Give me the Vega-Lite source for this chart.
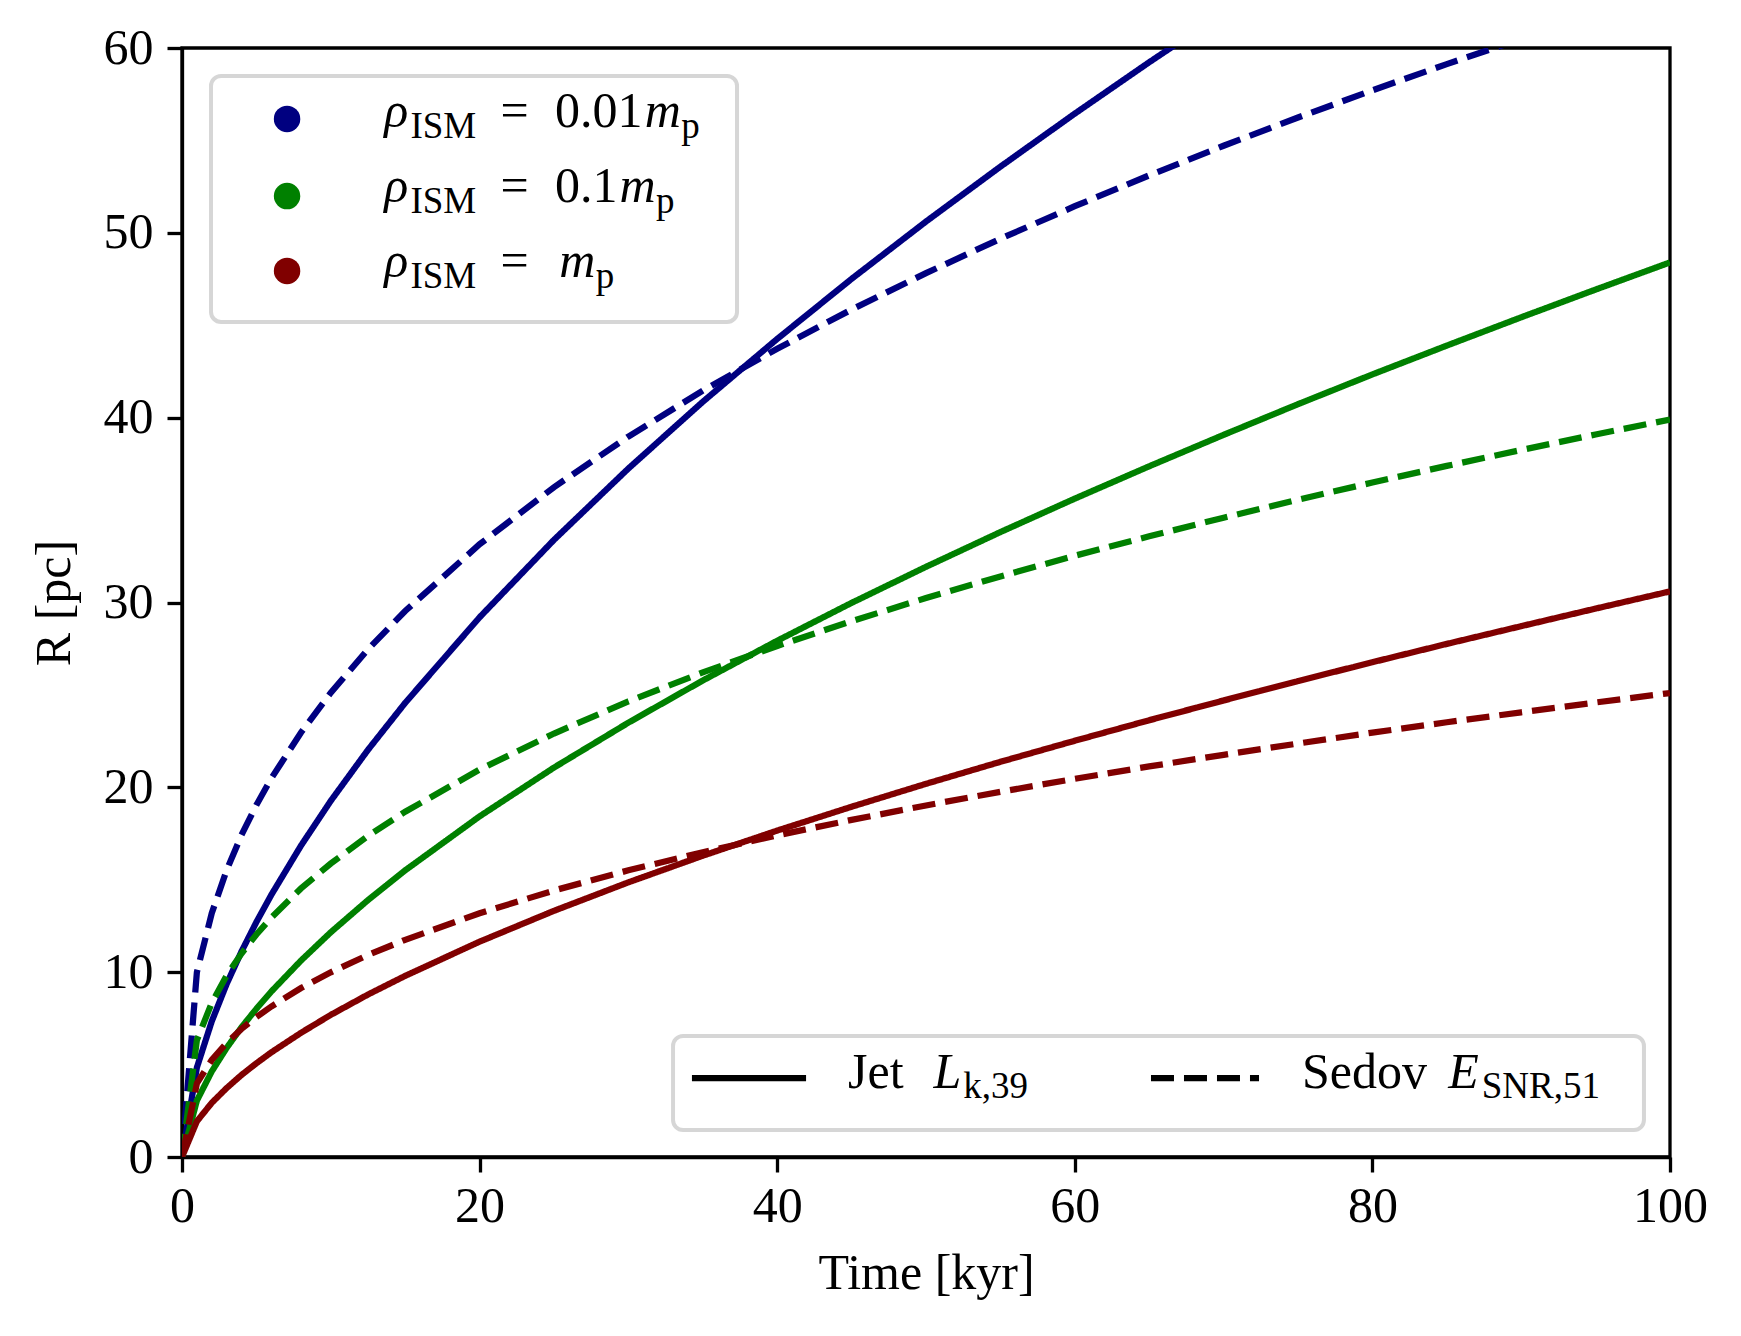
{
  "$schema": "https://vega.github.io/schema/vega-lite/v6.json",
  "width": 1488,
  "height": 1109,
  "autosize": {"type": "none"},
  "padding": {"left": 182, "top": 48, "right": 71, "bottom": 179},
  "background": "white",
  "config": {
    "view": {"stroke": "black", "strokeWidth": 3.3},
    "font": "Liberation Serif",
    "axis": {
      "labelFont": "Liberation Serif",
      "labelFontSize": 50,
      "labelColor": "black",
      "labelFlush": false,
      "labelOverlap": false,
      "titleFont": "Liberation Serif",
      "titleFontSize": 50,
      "titleFontWeight": "normal",
      "titleColor": "black",
      "tickColor": "black",
      "domainColor": "black",
      "tickWidth": 3.3,
      "domainWidth": 3.3,
      "tickSize": 15,
      "grid": false
    }
  },
  "datasets": {
    "one": [{}],
    "curves": [
      {"t": 0, "R": 0, "rho": "0.01", "model": "Jet"},
      {"t": 1, "R": 4.84, "rho": "0.01", "model": "Jet"},
      {"t": 2, "R": 7.34, "rho": "0.01", "model": "Jet"},
      {"t": 3, "R": 9.36, "rho": "0.01", "model": "Jet"},
      {"t": 4, "R": 11.12, "rho": "0.01", "model": "Jet"},
      {"t": 5, "R": 12.71, "rho": "0.01", "model": "Jet"},
      {"t": 6, "R": 14.18, "rho": "0.01", "model": "Jet"},
      {"t": 8, "R": 16.85, "rho": "0.01", "model": "Jet"},
      {"t": 10, "R": 19.27, "rho": "0.01", "model": "Jet"},
      {"t": 12.5, "R": 22.03, "rho": "0.01", "model": "Jet"},
      {"t": 15, "R": 24.57, "rho": "0.01", "model": "Jet"},
      {"t": 20, "R": 29.20, "rho": "0.01", "model": "Jet"},
      {"t": 25, "R": 33.39, "rho": "0.01", "model": "Jet"},
      {"t": 30, "R": 37.25, "rho": "0.01", "model": "Jet"},
      {"t": 35, "R": 40.86, "rho": "0.01", "model": "Jet"},
      {"t": 40, "R": 44.26, "rho": "0.01", "model": "Jet"},
      {"t": 45, "R": 47.51, "rho": "0.01", "model": "Jet"},
      {"t": 50, "R": 50.61, "rho": "0.01", "model": "Jet"},
      {"t": 55, "R": 53.58, "rho": "0.01", "model": "Jet"},
      {"t": 60, "R": 56.45, "rho": "0.01", "model": "Jet"},
      {"t": 65, "R": 59.23, "rho": "0.01", "model": "Jet"},
      {"t": 70, "R": 61.92, "rho": "0.01", "model": "Jet"},

      {"t": 0, "R": 0, "rho": "0.1", "model": "Jet"},
      {"t": 1, "R": 3.05, "rho": "0.1", "model": "Jet"},
      {"t": 2, "R": 4.63, "rho": "0.1", "model": "Jet"},
      {"t": 3, "R": 5.90, "rho": "0.1", "model": "Jet"},
      {"t": 4, "R": 7.02, "rho": "0.1", "model": "Jet"},
      {"t": 5, "R": 8.02, "rho": "0.1", "model": "Jet"},
      {"t": 6, "R": 8.95, "rho": "0.1", "model": "Jet"},
      {"t": 8, "R": 10.63, "rho": "0.1", "model": "Jet"},
      {"t": 10, "R": 12.16, "rho": "0.1", "model": "Jet"},
      {"t": 12.5, "R": 13.90, "rho": "0.1", "model": "Jet"},
      {"t": 15, "R": 15.51, "rho": "0.1", "model": "Jet"},
      {"t": 20, "R": 18.43, "rho": "0.1", "model": "Jet"},
      {"t": 25, "R": 21.07, "rho": "0.1", "model": "Jet"},
      {"t": 30, "R": 23.50, "rho": "0.1", "model": "Jet"},
      {"t": 35, "R": 25.78, "rho": "0.1", "model": "Jet"},
      {"t": 40, "R": 27.93, "rho": "0.1", "model": "Jet"},
      {"t": 45, "R": 29.98, "rho": "0.1", "model": "Jet"},
      {"t": 50, "R": 31.93, "rho": "0.1", "model": "Jet"},
      {"t": 55, "R": 33.81, "rho": "0.1", "model": "Jet"},
      {"t": 60, "R": 35.62, "rho": "0.1", "model": "Jet"},
      {"t": 65, "R": 37.37, "rho": "0.1", "model": "Jet"},
      {"t": 70, "R": 39.07, "rho": "0.1", "model": "Jet"},
      {"t": 75, "R": 40.73, "rho": "0.1", "model": "Jet"},
      {"t": 80, "R": 42.34, "rho": "0.1", "model": "Jet"},
      {"t": 85, "R": 43.90, "rho": "0.1", "model": "Jet"},
      {"t": 90, "R": 45.43, "rho": "0.1", "model": "Jet"},
      {"t": 95, "R": 46.93, "rho": "0.1", "model": "Jet"},
      {"t": 100, "R": 48.40, "rho": "0.1", "model": "Jet"},

      {"t": 0, "R": 0, "rho": "1", "model": "Jet"},
      {"t": 1, "R": 1.93, "rho": "1", "model": "Jet"},
      {"t": 2, "R": 2.93, "rho": "1", "model": "Jet"},
      {"t": 3, "R": 3.73, "rho": "1", "model": "Jet"},
      {"t": 4, "R": 4.44, "rho": "1", "model": "Jet"},
      {"t": 5, "R": 5.07, "rho": "1", "model": "Jet"},
      {"t": 6, "R": 5.66, "rho": "1", "model": "Jet"},
      {"t": 8, "R": 6.72, "rho": "1", "model": "Jet"},
      {"t": 10, "R": 7.69, "rho": "1", "model": "Jet"},
      {"t": 12.5, "R": 8.79, "rho": "1", "model": "Jet"},
      {"t": 15, "R": 9.80, "rho": "1", "model": "Jet"},
      {"t": 20, "R": 11.65, "rho": "1", "model": "Jet"},
      {"t": 25, "R": 13.32, "rho": "1", "model": "Jet"},
      {"t": 30, "R": 14.86, "rho": "1", "model": "Jet"},
      {"t": 35, "R": 16.30, "rho": "1", "model": "Jet"},
      {"t": 40, "R": 17.66, "rho": "1", "model": "Jet"},
      {"t": 45, "R": 18.95, "rho": "1", "model": "Jet"},
      {"t": 50, "R": 20.19, "rho": "1", "model": "Jet"},
      {"t": 55, "R": 21.38, "rho": "1", "model": "Jet"},
      {"t": 60, "R": 22.52, "rho": "1", "model": "Jet"},
      {"t": 65, "R": 23.63, "rho": "1", "model": "Jet"},
      {"t": 70, "R": 24.70, "rho": "1", "model": "Jet"},
      {"t": 75, "R": 25.75, "rho": "1", "model": "Jet"},
      {"t": 80, "R": 26.77, "rho": "1", "model": "Jet"},
      {"t": 85, "R": 27.76, "rho": "1", "model": "Jet"},
      {"t": 90, "R": 28.72, "rho": "1", "model": "Jet"},
      {"t": 95, "R": 29.67, "rho": "1", "model": "Jet"},
      {"t": 100, "R": 30.60, "rho": "1", "model": "Jet"},

      {"t": 0, "R": 0, "rho": "0.01", "model": "Sedov"},
      {"t": 1, "R": 10.00, "rho": "0.01", "model": "Sedov"},
      {"t": 2, "R": 13.19, "rho": "0.01", "model": "Sedov"},
      {"t": 3, "R": 15.52, "rho": "0.01", "model": "Sedov"},
      {"t": 4, "R": 17.42, "rho": "0.01", "model": "Sedov"},
      {"t": 5, "R": 19.04, "rho": "0.01", "model": "Sedov"},
      {"t": 6, "R": 20.48, "rho": "0.01", "model": "Sedov"},
      {"t": 8, "R": 22.97, "rho": "0.01", "model": "Sedov"},
      {"t": 10, "R": 25.12, "rho": "0.01", "model": "Sedov"},
      {"t": 12.5, "R": 27.47, "rho": "0.01", "model": "Sedov"},
      {"t": 15, "R": 29.54, "rho": "0.01", "model": "Sedov"},
      {"t": 20, "R": 33.15, "rho": "0.01", "model": "Sedov"},
      {"t": 25, "R": 36.24, "rho": "0.01", "model": "Sedov"},
      {"t": 30, "R": 38.98, "rho": "0.01", "model": "Sedov"},
      {"t": 35, "R": 41.46, "rho": "0.01", "model": "Sedov"},
      {"t": 40, "R": 43.73, "rho": "0.01", "model": "Sedov"},
      {"t": 45, "R": 45.85, "rho": "0.01", "model": "Sedov"},
      {"t": 50, "R": 47.82, "rho": "0.01", "model": "Sedov"},
      {"t": 55, "R": 49.68, "rho": "0.01", "model": "Sedov"},
      {"t": 60, "R": 51.44, "rho": "0.01", "model": "Sedov"},
      {"t": 65, "R": 53.11, "rho": "0.01", "model": "Sedov"},
      {"t": 70, "R": 54.71, "rho": "0.01", "model": "Sedov"},
      {"t": 75, "R": 56.24, "rho": "0.01", "model": "Sedov"},
      {"t": 80, "R": 57.71, "rho": "0.01", "model": "Sedov"},
      {"t": 85, "R": 59.13, "rho": "0.01", "model": "Sedov"},
      {"t": 90, "R": 60.49, "rho": "0.01", "model": "Sedov"},

      {"t": 0, "R": 0, "rho": "0.1", "model": "Sedov"},
      {"t": 1, "R": 6.32, "rho": "0.1", "model": "Sedov"},
      {"t": 2, "R": 8.34, "rho": "0.1", "model": "Sedov"},
      {"t": 3, "R": 9.82, "rho": "0.1", "model": "Sedov"},
      {"t": 4, "R": 11.01, "rho": "0.1", "model": "Sedov"},
      {"t": 5, "R": 12.04, "rho": "0.1", "model": "Sedov"},
      {"t": 6, "R": 12.95, "rho": "0.1", "model": "Sedov"},
      {"t": 8, "R": 14.53, "rho": "0.1", "model": "Sedov"},
      {"t": 10, "R": 15.88, "rho": "0.1", "model": "Sedov"},
      {"t": 12.5, "R": 17.37, "rho": "0.1", "model": "Sedov"},
      {"t": 15, "R": 18.68, "rho": "0.1", "model": "Sedov"},
      {"t": 20, "R": 20.96, "rho": "0.1", "model": "Sedov"},
      {"t": 25, "R": 22.91, "rho": "0.1", "model": "Sedov"},
      {"t": 30, "R": 24.65, "rho": "0.1", "model": "Sedov"},
      {"t": 35, "R": 26.22, "rho": "0.1", "model": "Sedov"},
      {"t": 40, "R": 27.65, "rho": "0.1", "model": "Sedov"},
      {"t": 45, "R": 28.99, "rho": "0.1", "model": "Sedov"},
      {"t": 50, "R": 30.24, "rho": "0.1", "model": "Sedov"},
      {"t": 55, "R": 31.41, "rho": "0.1", "model": "Sedov"},
      {"t": 60, "R": 32.53, "rho": "0.1", "model": "Sedov"},
      {"t": 65, "R": 33.58, "rho": "0.1", "model": "Sedov"},
      {"t": 70, "R": 34.59, "rho": "0.1", "model": "Sedov"},
      {"t": 75, "R": 35.56, "rho": "0.1", "model": "Sedov"},
      {"t": 80, "R": 36.49, "rho": "0.1", "model": "Sedov"},
      {"t": 85, "R": 37.39, "rho": "0.1", "model": "Sedov"},
      {"t": 90, "R": 38.25, "rho": "0.1", "model": "Sedov"},
      {"t": 95, "R": 39.09, "rho": "0.1", "model": "Sedov"},
      {"t": 100, "R": 39.90, "rho": "0.1", "model": "Sedov"},

      {"t": 0, "R": 0, "rho": "1", "model": "Sedov"},
      {"t": 1, "R": 3.98, "rho": "1", "model": "Sedov"},
      {"t": 2, "R": 5.25, "rho": "1", "model": "Sedov"},
      {"t": 3, "R": 6.17, "rho": "1", "model": "Sedov"},
      {"t": 4, "R": 6.93, "rho": "1", "model": "Sedov"},
      {"t": 5, "R": 7.57, "rho": "1", "model": "Sedov"},
      {"t": 6, "R": 8.14, "rho": "1", "model": "Sedov"},
      {"t": 8, "R": 9.14, "rho": "1", "model": "Sedov"},
      {"t": 10, "R": 9.99, "rho": "1", "model": "Sedov"},
      {"t": 12.5, "R": 10.93, "rho": "1", "model": "Sedov"},
      {"t": 15, "R": 11.75, "rho": "1", "model": "Sedov"},
      {"t": 20, "R": 13.19, "rho": "1", "model": "Sedov"},
      {"t": 25, "R": 14.42, "rho": "1", "model": "Sedov"},
      {"t": 30, "R": 15.51, "rho": "1", "model": "Sedov"},
      {"t": 35, "R": 16.49, "rho": "1", "model": "Sedov"},
      {"t": 40, "R": 17.40, "rho": "1", "model": "Sedov"},
      {"t": 45, "R": 18.24, "rho": "1", "model": "Sedov"},
      {"t": 50, "R": 19.02, "rho": "1", "model": "Sedov"},
      {"t": 55, "R": 19.76, "rho": "1", "model": "Sedov"},
      {"t": 60, "R": 20.46, "rho": "1", "model": "Sedov"},
      {"t": 65, "R": 21.13, "rho": "1", "model": "Sedov"},
      {"t": 70, "R": 21.76, "rho": "1", "model": "Sedov"},
      {"t": 75, "R": 22.37, "rho": "1", "model": "Sedov"},
      {"t": 80, "R": 22.96, "rho": "1", "model": "Sedov"},
      {"t": 85, "R": 23.52, "rho": "1", "model": "Sedov"},
      {"t": 90, "R": 24.06, "rho": "1", "model": "Sedov"},
      {"t": 95, "R": 24.59, "rho": "1", "model": "Sedov"},
      {"t": 100, "R": 25.10, "rho": "1", "model": "Sedov"}
    ]
  },
  "layer": [
    {
      "data": {"name": "curves"},
      "mark": {"type": "line", "strokeWidth": 6.25, "clip": true},
      "encoding": {
        "x": {
          "field": "t",
          "type": "quantitative",
          "title": "Time [kyr]",
          "scale": {"domain": [0, 100], "nice": false},
          "axis": {"values": [0, 20, 40, 60, 80, 100], "format": "d", "labelPadding": 9, "titlePadding": 17}
        },
        "y": {
          "field": "R",
          "type": "quantitative",
          "title": "R [pc]",
          "scale": {"domain": [0, 60], "nice": false},
          "axis": {"values": [0, 10, 20, 30, 40, 50, 60], "format": "d", "labelPadding": 14, "titlePadding": 24}
        },
        "color": {
          "field": "rho",
          "type": "nominal",
          "scale": {"domain": ["0.01", "0.1", "1"], "range": ["#000080", "#008000", "#800000"]},
          "legend": null
        },
        "strokeDash": {
          "field": "model",
          "type": "nominal",
          "scale": {"domain": ["Jet", "Sedov"], "range": [[1, 0], [23, 10]]},
          "legend": null
        }
      }
    },
    {
      "data": {"name": "one"},
      "mark": {"type": "rect", "fill": "white", "fillOpacity": 0.8, "stroke": "#cccccc", "strokeOpacity": 0.8, "strokeWidth": 4, "cornerRadius": 10},
      "encoding": {"x": {"datum": 1.95}, "x2": {"datum": 37.3}, "y": {"datum": 58.49}, "y2": {"datum": 45.18}}
    },
    {
      "data": {"name": "one"},
      "mark": {"type": "rect", "fill": "white", "fillOpacity": 0.8, "stroke": "#cccccc", "strokeOpacity": 0.8, "strokeWidth": 4, "cornerRadius": 10},
      "encoding": {"x": {"datum": 33.0}, "x2": {"datum": 98.25}, "y": {"datum": 6.55}, "y2": {"datum": 1.46}}
    },
    {
      "data": {"name": "one"},
      "mark": {"type": "point", "filled": true, "opacity": 1, "size": 700},
      "encoding": {"x": {"datum": 7.06}, "y": {"datum": 56.16}, "color": {"datum": "0.01", "type": "nominal"}}
    },
    {
      "data": {"name": "one"},
      "mark": {"type": "point", "filled": true, "opacity": 1, "size": 700},
      "encoding": {"x": {"datum": 7.06}, "y": {"datum": 51.99}, "color": {"datum": "0.1", "type": "nominal"}}
    },
    {
      "data": {"name": "one"},
      "mark": {"type": "point", "filled": true, "opacity": 1, "size": 700},
      "encoding": {"x": {"datum": 7.06}, "y": {"datum": 47.94}, "color": {"datum": "1", "type": "nominal"}}
    },
    {
      "data": {"name": "one"},
      "mark": {"type": "text", "text": "ρ", "fontStyle": "italic", "fontSize": 50, "align": "left", "baseline": "alphabetic", "color": "black"},
      "encoding": {"x": {"datum": 13.6}, "y": {"datum": 55.73}}
    },
    {
      "data": {"name": "one"},
      "mark": {"type": "text", "text": "ρ", "fontStyle": "italic", "fontSize": 50, "align": "left", "baseline": "alphabetic", "color": "black"},
      "encoding": {"x": {"datum": 13.6}, "y": {"datum": 51.67}}
    },
    {
      "data": {"name": "one"},
      "mark": {"type": "text", "text": "ρ", "fontStyle": "italic", "fontSize": 50, "align": "left", "baseline": "alphabetic", "color": "black"},
      "encoding": {"x": {"datum": 13.6}, "y": {"datum": 47.61}}
    },
    {
      "data": {"name": "one"},
      "mark": {"type": "text", "text": "ISM", "fontSize": 37, "align": "left", "baseline": "alphabetic", "color": "black"},
      "encoding": {"x": {"datum": 15.35}, "y": {"datum": 55.13}}
    },
    {
      "data": {"name": "one"},
      "mark": {"type": "text", "text": "ISM", "fontSize": 37, "align": "left", "baseline": "alphabetic", "color": "black"},
      "encoding": {"x": {"datum": 15.35}, "y": {"datum": 51.07}}
    },
    {
      "data": {"name": "one"},
      "mark": {"type": "text", "text": "ISM", "fontSize": 37, "align": "left", "baseline": "alphabetic", "color": "black"},
      "encoding": {"x": {"datum": 15.35}, "y": {"datum": 47.01}}
    },
    {
      "data": {"name": "one"},
      "mark": {"type": "text", "text": "=", "fontSize": 50, "align": "left", "baseline": "alphabetic", "color": "black"},
      "encoding": {"x": {"datum": 21.4}, "y": {"datum": 55.73}}
    },
    {
      "data": {"name": "one"},
      "mark": {"type": "text", "text": "=", "fontSize": 50, "align": "left", "baseline": "alphabetic", "color": "black"},
      "encoding": {"x": {"datum": 21.4}, "y": {"datum": 51.67}}
    },
    {
      "data": {"name": "one"},
      "mark": {"type": "text", "text": "=", "fontSize": 50, "align": "left", "baseline": "alphabetic", "color": "black"},
      "encoding": {"x": {"datum": 21.4}, "y": {"datum": 47.61}}
    },
    {
      "data": {"name": "one"},
      "mark": {"type": "text", "text": "0.01", "fontSize": 50, "align": "left", "baseline": "alphabetic", "color": "black"},
      "encoding": {"x": {"datum": 25.07}, "y": {"datum": 55.73}}
    },
    {
      "data": {"name": "one"},
      "mark": {"type": "text", "text": "0.1", "fontSize": 50, "align": "left", "baseline": "alphabetic", "color": "black"},
      "encoding": {"x": {"datum": 25.07}, "y": {"datum": 51.67}}
    },
    {
      "data": {"name": "one"},
      "mark": {"type": "text", "text": "m", "fontStyle": "italic", "fontSize": 50, "align": "left", "baseline": "alphabetic", "color": "black"},
      "encoding": {"x": {"datum": 31.1}, "y": {"datum": 55.73}}
    },
    {
      "data": {"name": "one"},
      "mark": {"type": "text", "text": "m", "fontStyle": "italic", "fontSize": 50, "align": "left", "baseline": "alphabetic", "color": "black"},
      "encoding": {"x": {"datum": 29.4}, "y": {"datum": 51.67}}
    },
    {
      "data": {"name": "one"},
      "mark": {"type": "text", "text": "m", "fontStyle": "italic", "fontSize": 50, "align": "left", "baseline": "alphabetic", "color": "black"},
      "encoding": {"x": {"datum": 25.35}, "y": {"datum": 47.61}}
    },
    {
      "data": {"name": "one"},
      "mark": {"type": "text", "text": "p", "fontSize": 37, "align": "left", "baseline": "alphabetic", "color": "black"},
      "encoding": {"x": {"datum": 33.55}, "y": {"datum": 55.13}}
    },
    {
      "data": {"name": "one"},
      "mark": {"type": "text", "text": "p", "fontSize": 37, "align": "left", "baseline": "alphabetic", "color": "black"},
      "encoding": {"x": {"datum": 31.85}, "y": {"datum": 51.07}}
    },
    {
      "data": {"name": "one"},
      "mark": {"type": "text", "text": "p", "fontSize": 37, "align": "left", "baseline": "alphabetic", "color": "black"},
      "encoding": {"x": {"datum": 27.8}, "y": {"datum": 47.01}}
    },
    {
      "data": {"name": "one"},
      "mark": {"type": "rule", "color": "black", "strokeWidth": 6.25},
      "encoding": {"x": {"datum": 34.27}, "x2": {"datum": 41.94}, "y": {"datum": 4.27}, "strokeDash": {"datum": "Jet", "type": "nominal"}}
    },
    {
      "data": {"name": "one"},
      "mark": {"type": "rule", "color": "black", "strokeWidth": 6.25},
      "encoding": {"x": {"datum": 65.12}, "x2": {"datum": 72.38}, "y": {"datum": 4.27}, "strokeDash": {"datum": "Sedov", "type": "nominal"}}
    },
    {
      "data": {"name": "one"},
      "mark": {"type": "text", "text": "Jet", "fontSize": 50, "align": "left", "baseline": "alphabetic", "color": "black"},
      "encoding": {"x": {"datum": 44.76}, "y": {"datum": 3.73}}
    },
    {
      "data": {"name": "one"},
      "mark": {"type": "text", "text": "L", "fontStyle": "italic", "fontSize": 50, "align": "left", "baseline": "alphabetic", "color": "black"},
      "encoding": {"x": {"datum": 50.5}, "y": {"datum": 3.73}}
    },
    {
      "data": {"name": "one"},
      "mark": {"type": "text", "text": "k,39", "fontSize": 37, "align": "left", "baseline": "alphabetic", "color": "black"},
      "encoding": {"x": {"datum": 52.5}, "y": {"datum": 3.19}}
    },
    {
      "data": {"name": "one"},
      "mark": {"type": "text", "text": "Sedov", "fontSize": 50, "align": "left", "baseline": "alphabetic", "color": "black"},
      "encoding": {"x": {"datum": 75.27}, "y": {"datum": 3.73}}
    },
    {
      "data": {"name": "one"},
      "mark": {"type": "text", "text": "E", "fontStyle": "italic", "fontSize": 50, "align": "left", "baseline": "alphabetic", "color": "black"},
      "encoding": {"x": {"datum": 85.1}, "y": {"datum": 3.73}}
    },
    {
      "data": {"name": "one"},
      "mark": {"type": "text", "text": "SNR,51", "fontSize": 37, "align": "left", "baseline": "alphabetic", "color": "black"},
      "encoding": {"x": {"datum": 87.35}, "y": {"datum": 3.19}}
    }
  ]
}
